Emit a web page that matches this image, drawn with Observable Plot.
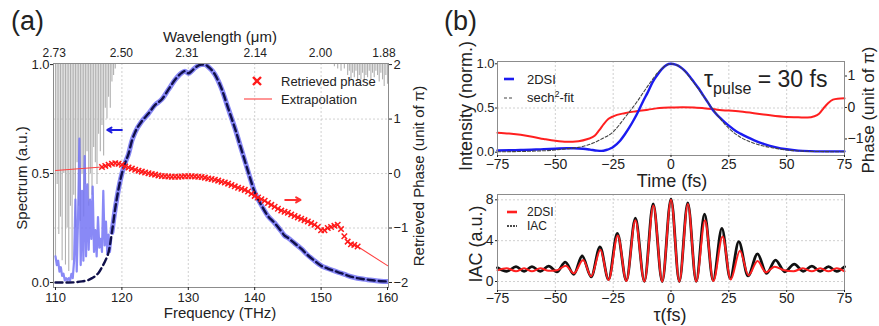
<!DOCTYPE html>
<html><head><meta charset="utf-8">
<script src="https://cdn.jsdelivr.net/npm/d3@7"></script>
<script src="https://cdn.jsdelivr.net/npm/@observablehq/plot@0.6"></script>
<style>
html,body{margin:0;padding:0;background:#fff;}
#wrap{position:relative;width:879px;height:326px;background:#fff;font-family:"Liberation Sans",Arial,sans-serif;color:#222;overflow:hidden;}
.abs{position:absolute;white-space:nowrap;line-height:1;}
.c{transform:translate(-50%,-50%);}
.r{transform:translate(-50%,-50%) rotate(-90deg);}
.lg{position:absolute;font-size:13px;white-space:nowrap;line-height:1;transform:translateY(-50%);}
</style></head>
<body><div id="wrap"></div>
<script>
// ---------------- Panel (a) data ----------------
const freqTicks = [110, 120, 130, 140, 150, 160];
const wavelengthTicks = [2.73, 2.50, 2.31, 2.14, 2.00, 1.88];
const wavelengthLabels = ["2.73", "2.50", "2.31", "2.14", "2.00", "1.88"];
const spectrumTicks = [0, 0.5, 1];
const phaseTicksA = [-2, -1, 0, 1, 2];
const phaseLabelsA = ["\u22122", "\u22121", "0", "1", "2"];

// measured spectrum: noisy low-frequency part
const noiseF = [110.0,110.2,110.4,110.6,110.8,111.0,111.2,111.4,111.6,111.8,112.0,112.2,112.4,112.6,112.8,113.0,113.2,113.4,113.6,113.8,114.0,114.2,114.4,114.6,114.8,115.0,115.2,115.4,115.6,115.8,116.0,116.2,116.4,116.6,116.8,117.0,117.2,117.4,117.6,117.8,118.0,118.2,118.4];
const noiseV = [0.12,0.08,0.10,0.05,0.07,0.03,0.04,0.01,0.02,0.01,0.02,0.01,0.04,0.02,0.10,0.38,0.05,0.30,0.66,0.08,0.42,0.10,0.58,0.12,0.45,0.15,0.38,0.20,0.44,0.14,0.24,0.12,0.30,0.16,0.20,0.14,0.42,0.17,0.28,0.13,0.22,0.14,0.20];
// sech-like fit low part
const fitLowF = [110, 112, 114, 115, 115.5, 116, 116.5, 117, 117.5, 118];
const fitLowV = [0, 0, 0.005, 0.012, 0.02, 0.03, 0.045, 0.07, 0.10, 0.14];
// common smooth spectrum part
const specF = [118.5,119,119.5,120,120.5,121,121.5,122,123,124,125,126,127,128,129,129.5,130,130.5,131,132,132.5,133,134,135,136,137,138,139,140,141,142,143,144,144.5,145,146,147,148,149,150,151,152,153,154,155,156,157,158,159,160];
const specV = [0.23,0.34,0.43,0.50,0.55,0.59,0.65,0.69,0.74,0.775,0.815,0.84,0.885,0.93,0.962,0.97,0.96,0.97,0.985,1.0,1.0,0.99,0.955,0.89,0.80,0.71,0.61,0.51,0.415,0.355,0.305,0.273,0.235,0.215,0.205,0.18,0.155,0.125,0.10,0.077,0.064,0.053,0.043,0.032,0.023,0.017,0.013,0.009,0.006,0.005];
// gray comb (drops from top)
const grayF = [110.0,110.25,110.5,110.75,111.0,111.25,111.5,111.75,112.0,112.25,112.5,112.75,113.0,113.25,113.5,113.75,114.0,114.25,114.5,114.75,115.0,115.25,115.5,115.75,116.0,116.25,116.5,116.75,117.0,117.25,117.5,117.75,118.0,118.25,118.5,118.75,119.0,
  152.0,152.5,153.0,153.5,154.0,154.25,154.5,154.75,155.0,155.25,155.5,155.75,156.0,156.25,156.5,156.75,157.0,157.25,157.5,157.75,158.0,158.25,158.5,158.75,159.0,159.25,159.5,159.75,160.0];
const grayV = [0.12,0.45,0.22,0.30,0.10,0.50,0.08,0.25,0.05,0.35,0.10,0.40,0.25,0.55,0.35,0.28,0.50,0.30,0.45,0.60,0.35,0.50,0.40,0.62,0.55,0.45,0.68,0.60,0.72,0.58,0.80,0.75,0.85,0.80,0.92,0.95,0.98,
  0.99,0.98,0.97,0.98,0.95,0.97,0.93,0.96,0.94,0.97,0.92,0.95,0.93,0.96,0.92,0.95,0.94,0.97,0.93,0.96,0.94,0.97,0.95,0.92,0.96,0.93,0.90,0.95,0.91];
// retrieved phase (unit of pi)
const phaseF = [117,117.5,118,118.5,119,119.5,120,120.5,121,121.5,122,122.5,123,123.5,124,124.5,125,125.5,126,126.5,127,127.5,128,128.5,129,129.5,130,130.5,131,131.5,132,132.5,133,133.5,134,134.5,135,135.5,136,136.5,137,137.5,138,138.5,139,139.5,140,140.5,141,141.5,142,142.5,143,143.5,144,144.5,145,145.5,146,146.5,147,147.5,148,148.5,149,149.5,150,150.5,151,151.5,152,152.5,153,153.5,154,154.5,155,155.5];
const phaseV = [0.12,0.14,0.16,0.18,0.19,0.18,0.16,0.13,0.11,0.09,0.07,0.05,0.035,0.02,0.005,-0.01,-0.02,-0.035,-0.045,-0.05,-0.055,-0.06,-0.06,-0.06,-0.055,-0.05,-0.05,-0.05,-0.055,-0.06,-0.065,-0.075,-0.09,-0.10,-0.115,-0.13,-0.15,-0.165,-0.185,-0.21,-0.235,-0.26,-0.28,-0.30,-0.33,-0.37,-0.41,-0.44,-0.47,-0.50,-0.54,-0.575,-0.61,-0.645,-0.68,-0.70,-0.72,-0.75,-0.78,-0.805,-0.83,-0.855,-0.88,-0.91,-0.94,-0.98,-1.04,-1.04,-1.0,-0.98,-0.96,-0.94,-1.02,-1.15,-1.25,-1.30,-1.31,-1.34];
// extrapolation segments
const extraF = [110, 117, 155.5, 160];
const extraV = [0.055, 0.12, -1.34, -1.69];
const extraSeg = ["low", "low", "high", "high"];
// direction arrows (data units: frequency, spectrum)
const arrowsA = [
  {x1: 120.0, x2: 117.8, y: 0.70, color: "#1f1fe0"},
  {x1: 144.6, x2: 146.9, y: 0.379, color: "#ff3030"}
];

// ---------------- Panel (b) data ----------------
const timeTicks = [-75, -50, -25, 0, 25, 50, 75];
const intTicks = [0, 0.5, 1];
const phaseTicksB = [-1, 0, 1];
const phaseLabelsB = ["\u22121", "0", "1"];
const blueT = [-75,-65,-55,-50,-45,-42,-38,-35,-32,-30,-28,-26,-25,-22,-20,-18,-16,-14,-12,-10,-8,-6,-4,-2,0,2,4,6,8,10,12,14,16,18,20,22,25,28,30,33,36,40,45,50,55,60,65,75];
const blueV = [0.02,0.025,0.035,0.04,0.045,0.045,0.04,0.03,0.018,0.015,0.025,0.045,0.06,0.13,0.20,0.28,0.37,0.47,0.58,0.68,0.79,0.87,0.94,0.985,1.0,0.99,0.965,0.92,0.86,0.79,0.72,0.64,0.56,0.48,0.42,0.37,0.30,0.24,0.21,0.17,0.135,0.095,0.058,0.033,0.018,0.012,0.01,0.01];
const fitT = [-75,-60,-50,-45,-40,-35,-30,-25,-20,-15,-10,-5,0,5,10,15,20,25,30,35,40,45,50,60,75];
const fitV = [0.005,0.012,0.025,0.04,0.055,0.09,0.15,0.23,0.39,0.56,0.75,0.92,1.0,0.94,0.78,0.6,0.42,0.27,0.17,0.11,0.07,0.045,0.025,0.01,0.005];
const phaseT = [-75,-70,-60,-55,-50,-45,-40,-36,-33,-31,-29,-27,-25,-20,-15,-10,-5,0,5,10,15,20,30,40,50,55,59,62,64,66,68,70,72,75];
const phaseBV = [-0.8,-0.83,-0.93,-1.0,-1.06,-1.09,-1.07,-1.0,-0.9,-0.72,-0.52,-0.36,-0.28,-0.18,-0.12,-0.07,-0.02,0,0.01,0,-0.03,-0.07,-0.13,-0.22,-0.30,-0.31,-0.32,-0.28,-0.2,-0.02,0.14,0.25,0.28,0.29];

const iacTicks = [0, 4, 8];
// IAC extrema (time fs, value)
const iacT = [-75,-71,-67,-63.5,-60.1,-56.5,-52.9,-49.3,-45.7,-42,-38.4,-34.5,-30.7,-27,-23.2,-19.3,-15.4,-11.5,-7.7,-3.8,0,3.6,7.25,10.9,14.5,18.2,22,25.6,29.3,33.3,37.4,41.3,45.2,49.2,53.3,57.1,60.9,64.5,68.1,71.6,75];
const iacV = [1.35,1.0,1.45,1.0,1.45,1.0,1.5,0.95,1.9,0.7,2.5,0.45,3.4,0.2,4.7,0.1,6.2,0.02,7.6,0.0,8.1,0.0,7.7,0.02,6.6,0.1,5.2,0.3,3.9,0.55,2.7,0.8,2.1,0.95,1.7,1.0,1.5,1.0,1.45,1.0,1.45];
const dsiT = [-75,-71,-67,-63.5,-60.1,-56.5,-52.9,-49.3,-45.5,-42,-38,-34.5,-30.5,-27,-23,-19.3,-15.4,-11.5,-7.6,-3.8,0,3.6,7.3,10.9,14.7,18.3,22.3,25.8,29.8,33.5,37.4,41,44.8,49,53,57,60.9,64.5,68.1,71.6,75];
const dsiV = [1.1,1.3,1.0,1.3,1.0,1.3,1.05,1.1,1.55,0.8,2.1,0.5,3.1,0.15,4.5,0.05,6.0,0.0,7.45,0.0,8.0,0.0,7.6,0.0,6.0,0.05,4.4,0.2,3.0,0.6,2.0,0.9,1.45,1.1,1.0,1.3,1.0,1.3,1.0,1.3,1.0];

// ---------------- helpers ----------------
const C = 299.792458; // um*THz
const specToS = p => (p + 2) / 4;            // phase (a) -> left scale
const phaseToI = p => 0.506 + 0.356 * p;     // phase (b) -> intensity scale
const font = {fontFamily: "'Liberation Sans', Arial, sans-serif", fontSize: "13px", color: "#222", background: "transparent", overflow: "visible"};
const gridStyle = {stroke: "#c4c4c4", strokeOpacity: 1, strokeDasharray: "2,2", strokeWidth: 0.8};

const fitF = fitLowF.concat(specF), fitAV = fitLowV.concat(specV);
const wlFreq = wavelengthTicks.map(l => C / l);
const wlMap = new Map(wlFreq.map((f, i) => [f, wavelengthLabels[i]]));
const phaseSTicks = phaseTicksA.map(specToS);
const phaseSMap = new Map(phaseSTicks.map((s, i) => [s, phaseLabelsA[i]]));
const phaseITicks = phaseTicksB.map(phaseToI);
const phaseIMap = new Map(phaseITicks.map((s, i) => [s, phaseLabelsB[i]]));

const plotA = Plot.plot({
  width: 440, height: 326, marginLeft: 53, marginRight: 52, marginTop: 63, marginBottom: 39,
  x: {domain: [109.7, 160.15]}, y: {domain: [-0.023, 1.005]},
  style: font,
  marks: [
    Plot.gridX([120, 130, 140, 150], gridStyle),
    Plot.gridY([0.25, 0.5, 0.75], gridStyle),
    Plot.ruleX(grayF, {x: grayF, y1: 1.01, y2: grayV, stroke: "#b0b0b0", strokeWidth: 1.1, clip: true}),
    Plot.line(noiseF, {x: noiseF, y: noiseV, stroke: "#7474f5", strokeWidth: 2.2, strokeOpacity: 0.85, clip: true}),
    Plot.line(specF, {x: specF, y: specV, stroke: "#6060f2", strokeWidth: 5, strokeOpacity: 0.75, curve: "monotone-x", clip: true}),
    Plot.line(fitF, {x: fitF, y: fitAV, stroke: "#10104a", strokeWidth: 2.4, strokeDasharray: "7,4", curve: "monotone-x", clip: true}),
    Plot.line(extraF, {x: extraF, y: extraV.map(specToS), z: extraSeg, stroke: "#ff4040", strokeWidth: 1.1, clip: true}),
    Plot.dot(phaseF, {x: phaseF, y: phaseV.map(specToS), symbol: "times", r: 2.6, stroke: "#ff1a1a", strokeWidth: 1.5}),
    Plot.arrow(arrowsA, {x1: "x1", x2: "x2", y1: "y", y2: "y", stroke: "color", strokeWidth: 2, headLength: 6}),
    Plot.frame({stroke: "#8c8c8c", strokeWidth: 1}),
    Plot.axisX({anchor: "bottom", ticks: freqTicks, tickSize: 3, tickPadding: 2, label: null}),
    Plot.axisX({anchor: "top", ticks: wlFreq, tickFormat: d => wlMap.get(d), tickSize: 0, tickPadding: 7, fontSize: 12, label: null}),
    Plot.axisY({anchor: "left", ticks: spectrumTicks, tickFormat: d => d.toFixed(1), tickSize: 3, tickPadding: 1, label: null}),
    Plot.axisY({anchor: "right", ticks: phaseSTicks, tickFormat: d => phaseSMap.get(d), tickSize: 3, tickPadding: 2, label: null})
  ]
});

const plotBT = Plot.plot({
  width: 439, height: 187, marginLeft: 57, marginRight: 35, marginTop: 61, marginBottom: 32,
  x: {domain: [-75, 75]}, y: {domain: [-0.037, 1.026]},
  style: {...font, fontSize: "14px"},
  marks: [
    Plot.gridX([-50, -25, 0, 25, 50], gridStyle),
    Plot.gridY([0.5], gridStyle),
    Plot.line(phaseT, {x: phaseT, y: phaseBV.map(phaseToI), stroke: "#ff1f1f", strokeWidth: 2, curve: "monotone-x"}),
    Plot.line(blueT, {x: blueT, y: blueV, stroke: "#1b1bf0", strokeWidth: 2.4, curve: "monotone-x"}),
    Plot.line(fitT, {x: fitT, y: fitV, stroke: "#444", strokeWidth: 1.1, strokeDasharray: "3,2", curve: "monotone-x"}),
    Plot.frame({stroke: "#8c8c8c", strokeWidth: 1}),
    Plot.axisX({anchor: "bottom", ticks: timeTicks, tickSize: 2, tickPadding: 2, label: null}),
    Plot.axisY({anchor: "left", ticks: intTicks, tickFormat: d => d.toFixed(1), tickSize: 2, tickPadding: 1, fontSize: 13, label: null}),
    Plot.axisY({anchor: "right", ticks: phaseITicks, tickFormat: d => phaseIMap.get(d), tickSize: 2, tickPadding: 1, label: null})
  ]
});

const plotBB = Plot.plot({
  width: 439, height: 139, marginLeft: 57, marginRight: 35, marginTop: 7, marginBottom: 36,
  x: {domain: [-75, 75]}, y: {domain: [-0.88, 8.52]},
  style: {...font, fontSize: "14px"},
  marks: [
    Plot.gridX([-50, -25, 0, 25, 50], gridStyle),
    Plot.gridY(iacTicks, gridStyle),
    Plot.line(iacT, {x: iacT, y: iacV, stroke: "#111", strokeWidth: 2.8, curve: "monotone-x"}),
    Plot.line(dsiT, {x: dsiT, y: dsiV, stroke: "#ff2020", strokeWidth: 2, curve: "monotone-x"}),
    Plot.frame({stroke: "#8c8c8c", strokeWidth: 1}),
    Plot.axisX({anchor: "bottom", ticks: timeTicks, tickSize: 2, tickPadding: 1, label: null}),
    Plot.axisY({anchor: "left", ticks: iacTicks, tickSize: 2, tickPadding: 2, label: null})
  ]
});

const wrap = document.getElementById("wrap");
function place(node, left, top) {
  const d = document.createElement("div");
  d.style.cssText = `position:absolute;left:${left}px;top:${top}px;`;
  d.appendChild(node);
  wrap.appendChild(d);
}
place(plotA, 0, 0);
place(plotBT, 440, 0);
place(plotBB, 440, 187);

const html = `
<div class="abs" style="left:11px;top:8px;font-size:27px;">(a)</div>
<div class="abs" style="left:444px;top:8px;font-size:27px;">(b)</div>
<div class="abs c" style="left:220px;top:36px;font-size:15px;">Wavelength (\u03bcm)</div>
<div class="abs c" style="left:220px;top:312px;font-size:15px;">Frequency (THz)</div>
<div class="abs r" style="left:21px;top:178px;font-size:15px;">Spectrum (a.u.)</div>
<div class="abs r" style="left:418px;top:176px;font-size:15px;">Retrieved Phase (unit of \u03c0)</div>

<svg style="position:absolute;left:251px;top:75px" width="12" height="12"><path d="M2,2L10,10M10,2L2,10" stroke="#ff1a1a" stroke-width="2.4"/></svg>
<div class="lg" style="left:281px;top:81px;">Retrieved phase</div>
<svg style="position:absolute;left:244px;top:97px" width="28" height="4"><line x1="0" y1="2" x2="28" y2="2" stroke="#ff4040" stroke-width="1.1"/></svg>
<div class="lg" style="left:281px;top:99px;">Extrapolation</div>

<div class="abs r" style="left:466px;top:106px;font-size:18px;">Intensity (norm.)</div>
<div class="abs r" style="left:868px;top:110px;font-size:17px;">Phase (unit of \u03c0)</div>
<div class="abs c" style="left:672px;top:181px;font-size:18px;">Time (fs)</div>
<div class="abs r" style="left:476px;top:244px;font-size:18px;">IAC (a.u.)</div>
<div class="abs c" style="left:670px;top:315px;font-size:18px;">\u03c4(fs)</div>

<div class="abs" style="left:704px;top:68px;font-size:23px;">\u03c4<span style="font-size:16px;position:relative;top:7px;">pulse</span> = 30 fs</div>

<svg style="position:absolute;left:504px;top:77px" width="12" height="4"><line x1="0" y1="2" x2="10" y2="2" stroke="#1b1bf0" stroke-width="2.6"/></svg>
<div class="lg" style="left:527px;top:79px;">2DSI</div>
<svg style="position:absolute;left:504px;top:96px" width="12" height="4"><line x1="0" y1="2" x2="9" y2="2" stroke="#444" stroke-width="1.2" stroke-dasharray="3,2"/></svg>
<div class="lg" style="left:527px;top:97px;">sech<sup style="font-size:9px;">2</sup>-fit</div>

<svg style="position:absolute;left:507px;top:210px" width="12" height="4"><line x1="0" y1="2" x2="10" y2="2" stroke="#ff2020" stroke-width="2.6"/></svg>
<div class="lg" style="left:527px;top:212px;font-size:12px;">2DSI</div>
<svg style="position:absolute;left:507px;top:224px" width="12" height="4"><line x1="0" y1="2" x2="10" y2="2" stroke="#111" stroke-width="1.4" stroke-dasharray="2,1"/></svg>
<div class="lg" style="left:527px;top:226px;font-size:12px;">IAC</div>
`;
wrap.insertAdjacentHTML("beforeend", html);
</script>
</body></html>
